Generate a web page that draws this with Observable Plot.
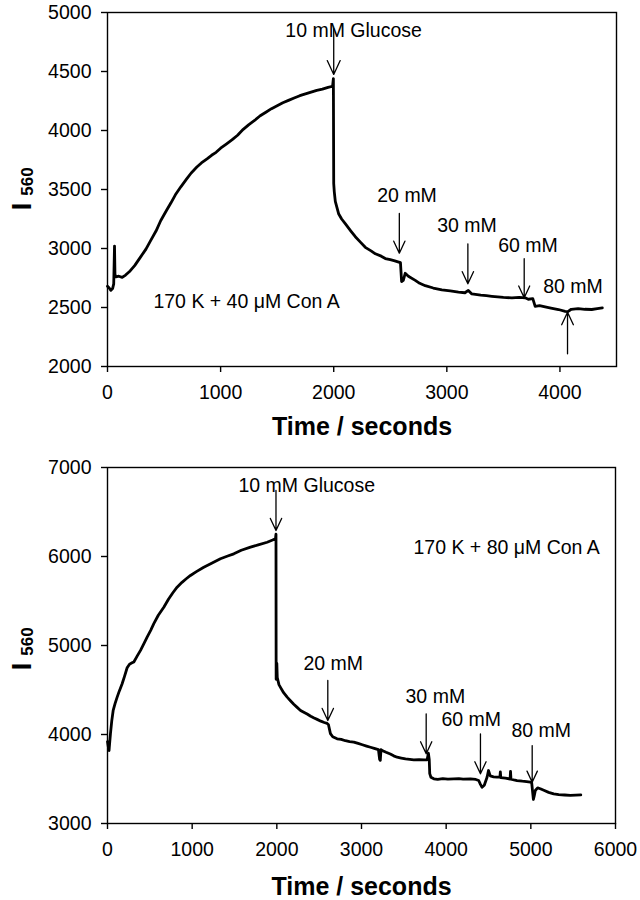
<!DOCTYPE html>
<html><head><meta charset="utf-8">
<script src="https://cdn.jsdelivr.net/npm/d3@7"></script>
<script src="https://cdn.jsdelivr.net/npm/@observablehq/plot@0.6"></script>
<style>
body{margin:0;background:#fff;}
#c svg{display:block;}
</style>
</head><body><div id="c"></div>
<script>
// ---------- Panel A: 170 K + 40 µM Con A ----------
const timeA = [0,15,30,45,55,62,66,75,100,130,160,200,240,290,340,380,430,470,520,560,600,650,700,740,790,830,880,920,960,1000,1050,1100,1150,1200,1250,1300,1350,1400,1450,1500,1550,1600,1650,1700,1750,1800,1850,1900,1950,1990,1997,2000,2005,2014,2043,2070,2102,2150,2191,2240,2279,2330,2368,2420,2456,2500,2540,2575,2590,2600,2615,2632,2660,2721,2760,2809,2880,2956,3030,3103,3160,3190,3221,3300,3350,3398,3450,3500,3575,3640,3693,3720,3760,3781,3820,3869,3920,3987,4046,4070,4100,4161,4220,4281,4330,4375];
const signalA = [2680,2665,2645,2660,2700,3020,2780,2760,2765,2755,2775,2810,2855,2925,2995,3065,3150,3235,3320,3385,3455,3525,3590,3640,3690,3725,3760,3790,3815,3850,3885,3920,3960,4010,4050,4085,4125,4155,4185,4210,4235,4255,4275,4295,4310,4325,4340,4350,4365,4375,4440,3550,3480,3400,3295,3250,3210,3150,3100,3050,3010,2980,2955,2935,2915,2905,2895,2885,2880,2720,2730,2790,2765,2730,2705,2685,2665,2650,2640,2630,2625,2645,2615,2605,2600,2595,2590,2585,2582,2585,2582,2570,2575,2510,2515,2505,2495,2483,2468,2465,2485,2490,2485,2483,2490,2497];
const xTicksA = [0,1000,2000,3000,4000];
const yTicksA = [2000,2500,3000,3500,4000,4500,5000];
const arrowTimeA  = [2000,2580,3186,3684,4067];
const arrowFromA  = [4864,3297,3040,2913,2108];
const arrowToA    = [4475,2960,2701,2582,2460];
const noteTextA = ["10 mM Glucose","20 mM","30 mM","60 mM","80 mM","170 K + 40 \u03bcM Con A"];
const noteTimeA = [1572,2385,2915,3454,3852,406];
const noteValA  = [4847,3449,3195,3025,2674,2551];

// ---------- Panel B: 170 K + 80 µM Con A ----------
const timeB = [0,10,18,25,35,50,67,90,114,140,173,200,232,260,290,311,350,390,430,468,510,547,600,665,720,770,822,880,930,980,1050,1137,1230,1334,1420,1492,1580,1689,1780,1886,1950,1984,1990,1992,1996,2000,2005,2025,2043,2080,2122,2161,2200,2240,2280,2318,2358,2400,2440,2476,2520,2560,2594,2610,2633,2660,2712,2760,2810,2860,2909,2960,3010,3060,3106,3150,3200,3214,3222,3230,3244,3290,3340,3380,3421,3470,3520,3570,3618,3680,3740,3775,3790,3800,3806,3820,3854,3900,3960,4020,4090,4150,4200,4287,4350,4384,4405,4424,4450,4483,4500,4520,4560,4601,4635,4640,4645,4700,4755,4760,4765,4800,4837,4900,4950,4994,5010,5030,5040,5053,5080,5112,5160,5210,5270,5330,5400,5466,5530,5590];
const signalB = [3920,3860,3820,3900,4010,4150,4270,4350,4420,4490,4570,4650,4750,4790,4805,4815,4880,4945,5020,5095,5170,5245,5340,5430,5520,5590,5655,5710,5750,5787,5830,5880,5925,5975,6005,6030,6070,6105,6130,6160,6185,6200,6250,4620,4650,4800,4640,4560,4530,4470,4420,4380,4340,4305,4270,4250,4230,4205,4185,4170,4150,4135,4125,4110,4010,3975,3952,3945,3930,3920,3915,3900,3885,3870,3857,3845,3830,3720,3710,3830,3820,3800,3780,3760,3745,3735,3725,3720,3716,3718,3716,3716,3790,3720,3560,3520,3502,3495,3505,3498,3502,3505,3498,3502,3495,3483,3440,3408,3430,3520,3595,3535,3525,3520,3520,3580,3515,3510,3500,3585,3498,3490,3483,3475,3470,3464,3460,3270,3310,3371,3400,3390,3370,3350,3333,3325,3320,3315,3318,3321];
const xTicksB = [0,1000,2000,3000,4000,5000,6000];
const yTicksB = [3000,4000,5000,6000,7000];
const arrowTimeB = [1990,2602,3764,4405,5016];
const arrowFromB = [6742,4607,4232,4007,3876];
const arrowToB   = [6292,4157,3783,3558,3464];
const noteTextB = ["10 mM Glucose","170 K + 80 \u03bcM Con A","20 mM","30 mM","60 mM","80 mM"];
const noteTimeB = [1547,3614,2315,3520,3945,4771];
const noteValB  = [6798,6101,4792,4421,4169,4045];

const yLabelMain = "I";
const yLabelSub = "560";
const xLabel = "Time / seconds";

const FONT = "'Liberation Sans', Arial, Helvetica, sans-serif";

function panel(o) {
  const idx = d3.range(o.time.length);
  const aIdx = d3.range(o.arrowTime.length);
  const nIdx = d3.range(o.noteText.length);
  return Plot.plot({
    width: 640, height: 450,
    marginLeft: 107, marginRight: o.marginRight, marginTop: o.marginTop, marginBottom: o.marginBottom,
    style: {fontFamily: FONT, fontSize: "19.5px", color: "#000", background: "#fff", overflow: "visible"},
    x: {domain: o.xDomain},
    y: {domain: o.yDomain},
    marks: [
      Plot.frame({stroke: "#000", strokeWidth: 1.4}),
      Plot.axisX({ticks: o.xTicks, tickFormat: "d", tickSize: 6, tickPadding: 13, label: null, strokeWidth: 1.4}),
      Plot.axisY({ticks: o.yTicks, tickFormat: "d", tickSize: 6, tickPadding: 10, label: null, strokeWidth: 1.4}),
      Plot.line(idx, {x: i => o.time[i], y: i => o.signal[i], stroke: "#000", strokeWidth: 2.8, strokeLinejoin: "round"}),
      Plot.arrow(aIdx, {x1: i => o.arrowTime[i], y1: i => o.arrowFrom[i], x2: i => o.arrowTime[i], y2: i => o.arrowTo[i],
        stroke: "#000", strokeWidth: 1.3, headLength: 19, headAngle: 50}),
      Plot.text(nIdx, {x: i => o.noteTime[i], y: i => o.noteVal[i], text: i => o.noteText[i], textAnchor: "start", fontSize: 19.5, fill: "#000"}),
      Plot.text([yLabelMain], {text: d => d, frameAnchor: "left", rotate: -90, lineAnchor: "bottom", textAnchor: "middle",
        fontSize: 27, fontWeight: "bold", dx: -77, dy: o.iDy}),
      Plot.text([yLabelSub], {text: d => d, frameAnchor: "left", rotate: -90, lineAnchor: "bottom", textAnchor: "middle",
        fontSize: 17, fontWeight: "bold", dx: -75, dy: o.subDy}),
      Plot.text([xLabel], {text: d => d, frameAnchor: "bottom", lineAnchor: "bottom", textAnchor: "middle",
        fontSize: 25, fontWeight: "bold", dy: o.titleDy})
    ]
  });
}

const c = document.getElementById("c");
c.appendChild(panel({
  time: timeA, signal: signalA, xDomain: [0, 4500], yDomain: [2000, 5000], xTicks: xTicksA, yTicks: yTicksA,
  arrowTime: arrowTimeA, arrowFrom: arrowFromA, arrowTo: arrowToA,
  noteText: noteTextA, noteTime: noteTimeA, noteVal: noteValA,
  marginRight: 24, marginTop: 12, marginBottom: 84, iDy: 17, subDy: -8, titleDy: 68
}));
c.appendChild(panel({
  time: timeB, signal: signalB, xDomain: [0, 6000], yDomain: [3000, 7000], xTicks: xTicksB, yTicks: yTicksB,
  arrowTime: arrowTimeB, arrowFrom: arrowFromB, arrowTo: arrowToB,
  noteText: noteTextB, noteTime: noteTimeB, noteVal: noteValB,
  marginRight: 25, marginTop: 17, marginBottom: 77, iDy: 21, subDy: -4, titleDy: 71
}));
</script>
</body></html>
